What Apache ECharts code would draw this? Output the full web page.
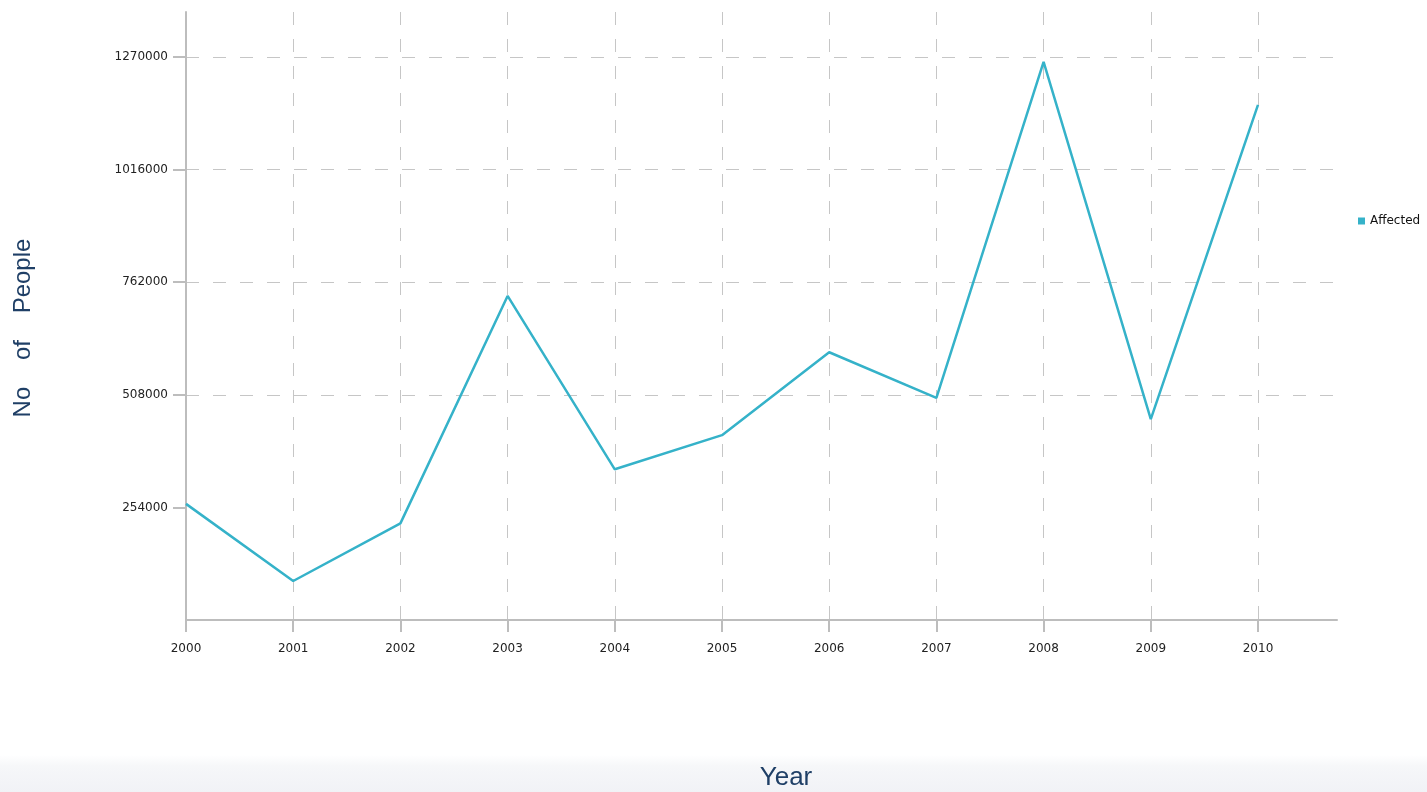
<!DOCTYPE html>
<html>
<head>
<meta charset="utf-8">
<style>
html,body{margin:0;padding:0;background:#fff;}
#chart{width:1427px;height:792px;}
</style>
<script src="https://cdn.jsdelivr.net/npm/echarts@6/dist/echarts.min.js"></script>
</head>
<body>
<div id="chart"></div>
<script>
var years = [2000, 2001, 2002, 2003, 2004, 2005, 2006, 2007, 2008, 2009, 2010];
var affected = [262000, 88000, 218000, 731000, 340000, 417000, 604000, 501000, 1259000, 453000, 1162000];
var yTicks = [254000, 508000, 762000, 1016000, 1270000];
var seriesName = 'Affected';
var xTitle = 'Year';
var yTitle = 'No    of    People';

var chart = echarts.init(document.getElementById('chart'));
var pts = years.map(function (y, i) { return [y, affected[i]]; });
var gridColor = '#c6c6c6';
var axisColor = '#bdbdbd';
var font = 'DejaVu Sans';

chart.setOption({
  animation: false,
  backgroundColor: '#ffffff',
  graphic: [
    {
      type: 'rect', z: -10, silent: true,
      shape: { x: 0, y: 755, width: 1427, height: 37 },
      style: { fill: new echarts.graphic.LinearGradient(0, 0, 0, 1, [
        { offset: 0, color: '#ffffff' }, { offset: 0.3, color: '#f6f7f9' }, { offset: 1, color: '#f1f2f6' }
      ]) }
    },
    {
      type: 'text', x: 786, y: 778,
      style: { text: xTitle, fill: '#1f3f66', font: '26px "Liberation Sans", Arial, sans-serif',
        align: 'center', verticalAlign: 'middle' }
    },
    {
      type: 'text', x: 23, y: 328, rotation: Math.PI / 2,
      style: { text: yTitle, fill: '#1f3f66', font: '24px "Liberation Sans", Arial, sans-serif',
        align: 'center', verticalAlign: 'middle' }
    }
  ],
  legend: {
    show: true,
    data: [seriesName],
    left: 1353, top: 210,
    orient: 'vertical',
    icon: 'rect',
    itemWidth: 7, itemHeight: 7, itemGap: 5,
    textStyle: { fontFamily: font, fontSize: 12, color: '#111' }
  },
  grid: { left: 186, top: 12, right: 90, bottom: 172, containLabel: false },
  xAxis: {
    type: 'value',
    min: 2000, max: 2010.737, interval: 1,
    axisLine: { show: true, lineStyle: { color: axisColor, width: 2 } },
    axisTick: { show: true, length: 12, lineStyle: { color: axisColor, width: 2 }, customValues: years },
    axisLabel: { customValues: years, margin: 23, fontFamily: font, fontSize: 12, color: '#222',
      formatter: function (v) { return String(Math.round(v)); } },
    splitLine: { show: true, showMinLine: false, showMaxLine: true,
      lineStyle: { color: gridColor, width: 1, type: [13, 14] } }
  },
  yAxis: {
    type: 'value',
    min: 0, max: 1371600, interval: 254000,
    axisLine: { show: true, lineStyle: { color: axisColor, width: 2 } },
    axisTick: { show: true, length: 13, lineStyle: { color: axisColor, width: 2 }, customValues: yTicks },
    axisLabel: { customValues: yTicks, margin: 18, fontFamily: font, fontSize: 12, color: '#222',
      padding: [0, 0, 6, 0], formatter: function (v) { return String(v); } },
    splitLine: { show: true, showMinLine: false, showMaxLine: true,
      lineStyle: { color: gridColor, width: 1, type: [13, 14] } }
  },
  series: [{
    name: seriesName,
    type: 'line',
    data: pts,
    showSymbol: false,
    symbol: 'none',
    itemStyle: { color: '#35b2c9' },
    lineStyle: { color: '#35b2c9', width: 2.5 }
  }]
});
</script>
</body>
</html>
